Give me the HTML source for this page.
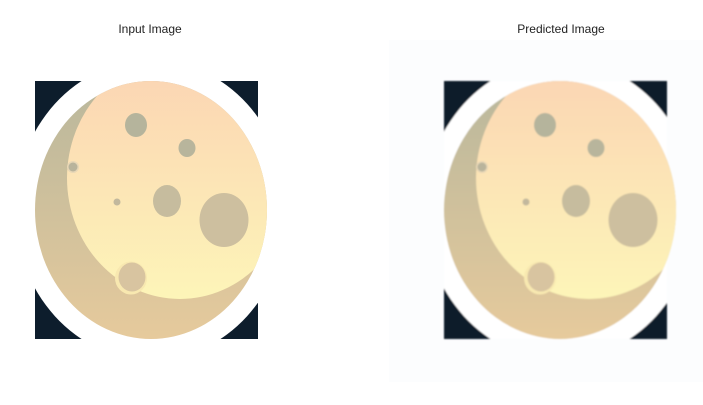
<!DOCTYPE html>
<html><head><meta charset="utf-8"><style>
html,body{margin:0;padding:0;background:#fff;}
svg{display:block;}
text{font-family:"Liberation Sans","DejaVu Sans",sans-serif;font-size:12px;fill:#222;}
</style></head><body>
<svg width="703" height="405" viewBox="0 0 703 405">
<defs>
<linearGradient id="lit" x1="0" y1="0" x2="0" y2="1">
<stop offset="0" stop-color="#fbd3b3"/><stop offset="1" stop-color="#fdf5b8"/></linearGradient>
<linearGradient id="shd" x1="0" y1="0" x2="0" y2="1">
<stop offset="0" stop-color="#b9b79c"/><stop offset="1" stop-color="#e6ca9c"/></linearGradient>
<clipPath id="sq"><rect x="35" y="81" width="223" height="258"/></clipPath>
<clipPath id="moonclip"><ellipse cx="151" cy="210" rx="116" ry="129"/></clipPath>
<filter id="blur"><feGaussianBlur stdDeviation="0.8"/></filter>
<g id="moon">
<g clip-path="url(#sq)">
<rect x="35" y="81" width="223" height="258" fill="#0d1d2c"/>
<ellipse cx="151" cy="210" rx="136" ry="150" fill="#ffffff"/>
</g>
<ellipse cx="151" cy="210" rx="116" ry="129" fill="url(#shd)"/>
<g clip-path="url(#moonclip)">
<ellipse cx="180" cy="178" rx="113" ry="121" fill="url(#lit)"/>
</g>
<ellipse cx="136" cy="125" rx="11" ry="12" fill="#b5b49c"/>
<ellipse cx="187" cy="148" rx="8.5" ry="9" fill="#b8b59c"/>
<circle cx="73" cy="167" r="6" fill="#e8d7b6"/>
<circle cx="73" cy="167" r="4.5" fill="#b9b49c"/>
<circle cx="117" cy="202" r="3.5" fill="#c2b89d"/>
<ellipse cx="167" cy="201" rx="14" ry="16" fill="#c6bc9e"/>
<ellipse cx="224" cy="220" rx="24.5" ry="27" fill="#cdbf9f"/>
<ellipse cx="131" cy="278" rx="16" ry="16.5" fill="#f8e8b0"/>
<ellipse cx="132" cy="277" rx="13.5" ry="14.5" fill="#d8c4a0"/>
</g>
</defs>
<text x="150" y="33" text-anchor="middle">Input Image</text>
<text x="561" y="33" text-anchor="middle">Predicted Image</text>
<g><use href="#moon"/></g>
<rect x="389" y="40" width="314" height="342" fill="#fcfdfe"/>
<g filter="url(#blur)"><use href="#moon" transform="translate(409,0)"/></g>
</svg>
</body></html>
